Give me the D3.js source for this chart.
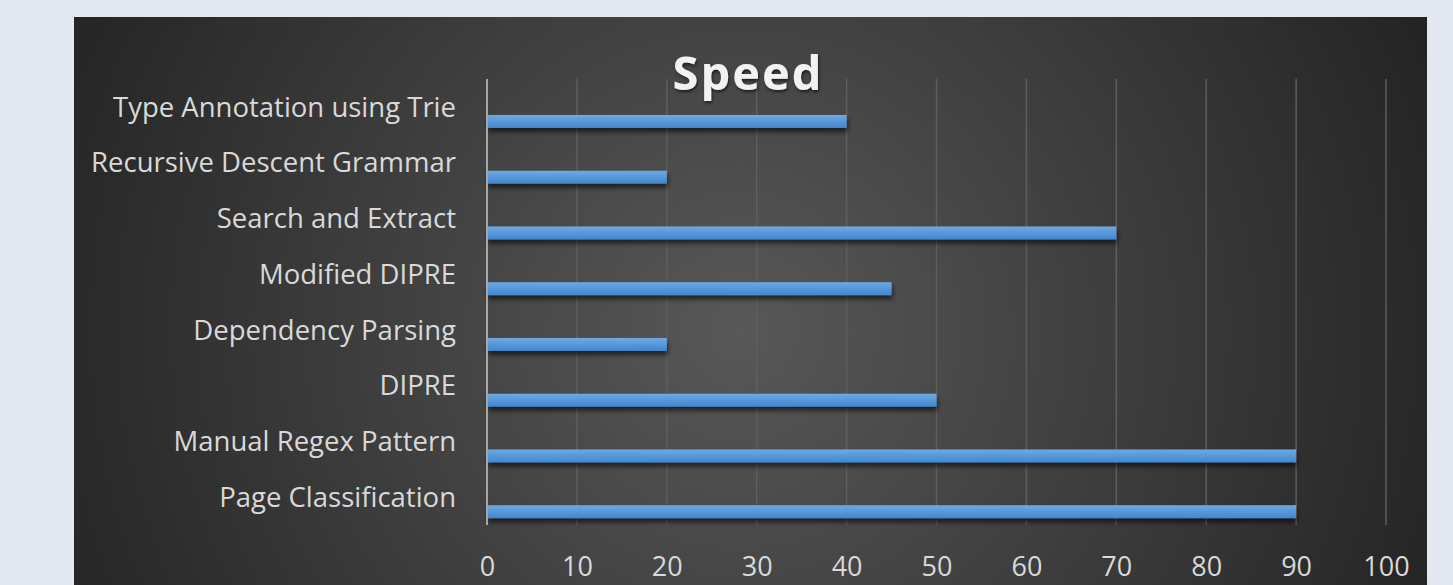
<!DOCTYPE html>
<html lang="en">
<head>
<meta charset="utf-8">
<title>Speed</title>
<script src="https://d3js.org/d3.v7.min.js"></script>
<style>
  body { margin: 0; background: #e4e8f1; font-family: 'Open Sans', sans-serif; }
  .catlabel { font-size: 27.5px; fill: #d9d9d9; }
  .xaxis text { font-size: 27px; fill: #d9d9d9; font-family: 'Open Sans', sans-serif; }
  .title { font-size: 47px; font-weight: bold; fill: #f2f2f2; letter-spacing: 2px; }
</style>
</head>
<body>
<div id="chart"></div>
<script>
// data, top to bottom
var categories = ["Type Annotation using Trie", "Recursive Descent Grammar", "Search and Extract",
  "Modified DIPRE", "Dependency Parsing", "DIPRE", "Manual Regex Pattern", "Page Classification"];
var speed = [40, 20, 70, 45, 20, 50, 90, 90];
var xTicks = [0, 10, 20, 30, 40, 50, 60, 70, 80, 90, 100];

var W = 1453, H = 585;
var panel = {x: 74, y: 17, w: 1353, h: 600};
var plot = {left: 487, right: 1386, top: 79, bottom: 525};

var svg = d3.select("#chart").append("svg")
  .attr("width", W).attr("height", H);

var defs = svg.append("defs");
var bg = defs.append("radialGradient").attr("id", "bg")
  .attr("gradientUnits", "userSpaceOnUse")
  .attr("cx", 740).attr("cy", 330).attr("r", 760);
bg.append("stop").attr("offset", "0%").attr("stop-color", "#585858");
bg.append("stop").attr("offset", "100%").attr("stop-color", "#232323");

var barGrad = defs.append("linearGradient").attr("id", "bar")
  .attr("x1", 0).attr("y1", 0).attr("x2", 0).attr("y2", 1);
barGrad.append("stop").attr("offset", "0%").attr("stop-color", "#6eaae2");
barGrad.append("stop").attr("offset", "100%").attr("stop-color", "#4186d0");

var shadow = defs.append("filter").attr("id", "shadow")
  .attr("x", "-5%").attr("y", "-50%").attr("width", "110%").attr("height", "250%");
shadow.append("feDropShadow").attr("dx", 1).attr("dy", 4).attr("stdDeviation", 2.5)
  .attr("flood-color", "#000").attr("flood-opacity", 0.6);

var tshadow = defs.append("filter").attr("id", "tshadow");
tshadow.append("feDropShadow").attr("dx", 1).attr("dy", 2).attr("stdDeviation", 1.5)
  .attr("flood-color", "#000").attr("flood-opacity", 0.6);

svg.append("rect")
  .attr("x", panel.x).attr("y", panel.y)
  .attr("width", panel.w).attr("height", panel.h)
  .attr("fill", "url(#bg)");

var x = d3.scaleLinear().domain([0, 100]).range([plot.left, plot.right]);
var y = d3.scaleBand().domain(categories).range([plot.top, plot.bottom]);

// gridlines
svg.append("g").selectAll("line")
  .data(xTicks.slice(1))
  .join("line")
    .attr("x1", d => x(d)).attr("x2", d => x(d))
    .attr("y1", plot.top).attr("y2", plot.bottom)
    .attr("stroke", "#5e5e5e").attr("stroke-width", 1.5);

// bars
var barH = 13;
svg.append("g").selectAll("rect")
  .data(categories)
  .join("rect")
    .attr("x", x(0))
    .attr("y", d => y(d) + y.bandwidth() * 0.645)
    .attr("width", (d, i) => x(speed[i]) - x(0))
    .attr("height", barH)
    .attr("fill", "url(#bar)")
    .attr("filter", "url(#shadow)");

// vertical axis line
svg.append("line")
  .attr("x1", x(0)).attr("x2", x(0))
  .attr("y1", plot.top).attr("y2", plot.bottom)
  .attr("stroke", "#a6a6a6").attr("stroke-width", 2);

// category labels
svg.append("g").selectAll("text")
  .data(categories)
  .join("text")
    .attr("class", "catlabel")
    .attr("x", 456)
    .attr("y", d => y(d) + y.bandwidth() / 2)
    .attr("dy", "0.35em")
    .attr("text-anchor", "end")
    .text(d => d);

// x axis
var xAxis = svg.append("g")
  .attr("class", "xaxis")
  .attr("transform", "translate(0," + plot.bottom + ")")
  .call(d3.axisBottom(x).tickValues(xTicks).tickSize(0).tickPadding(32));
xAxis.select(".domain").remove();

svg.append("text")
  .attr("class", "title")
  .attr("x", 748).attr("y", 90)
  .attr("text-anchor", "middle")
  .attr("filter", "url(#tshadow)")
  .text("Speed");
</script>
</body>
</html>
